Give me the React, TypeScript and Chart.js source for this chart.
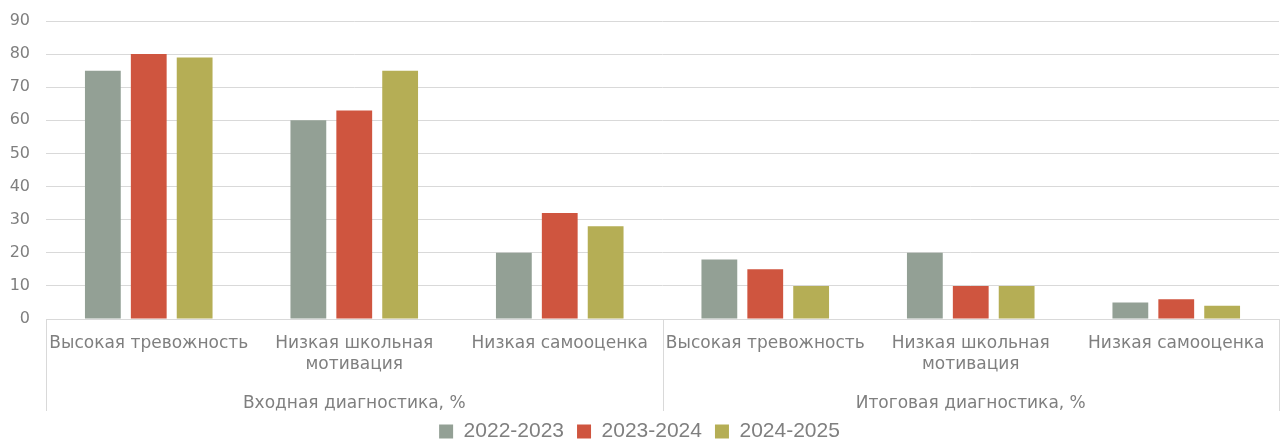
import React, { useEffect, useRef } from "react";
import { Chart, registerables } from "chart.js";

Chart.register(...registerables);

const categories: (string | string[])[] = [
  "Высокая тревожность",
  ["Низкая школьная", "мотивация"],
  "Низкая самооценка",
  "Высокая тревожность",
  ["Низкая школьная", "мотивация"],
  "Низкая самооценка",
];
const groups = ["Входная диагностика, %", "Итоговая диагностика, %"];
const seriesNames = ["2022-2023", "2023-2024", "2024-2025"];
const values2022 = [75, 60, 20, 18, 20, 5];
const values2023 = [80, 63, 32, 15, 10, 6];
const values2024 = [79, 75, 28, 10, 10, 4];
const colors = ["#93A095", "#CF553F", "#B5AE55"];
const yTicks = [0, 10, 20, 30, 40, 50, 60, 70, 80, 90];

const FONT = "'DejaVu Sans', sans-serif";
const TEXT = "#7f7f7f";
const LINE = "#d9d9d9";

const groupPlugin = {
  id: "groupPlugin",
  afterDraw(chart: any) {
    const ctx = chart.ctx;
    const area = chart.chartArea;
    const x = chart.scales.x;
    const bottom = area.bottom + 92;
    const n = categories.length;
    const per = n / groups.length;
    ctx.save();
    ctx.strokeStyle = LINE;
    ctx.lineWidth = 1;
    const edges: number[] = [];
    for (let g = 0; g <= groups.length; g++) {
      const i = g * per;
      let px: number;
      if (i === 0) px = area.left;
      else if (i >= n) px = area.right;
      else px = (x.getPixelForValue(i - 1) + x.getPixelForValue(i)) / 2;
      edges.push(px);
      ctx.beginPath();
      ctx.moveTo(Math.round(px) + 0.5, area.bottom);
      ctx.lineTo(Math.round(px) + 0.5, bottom);
      ctx.stroke();
    }
    ctx.fillStyle = TEXT;
    ctx.font = "17px " + FONT;
    ctx.textAlign = "center";
    ctx.textBaseline = "middle";
    for (let g = 0; g < groups.length; g++) {
      ctx.fillText(groups[g], (edges[g] + edges[g + 1]) / 2, area.bottom + 85);
    }
    ctx.restore();
  },
};

export default function App() {
  const ref = useRef<HTMLCanvasElement>(null);
  useEffect(() => {
    document.body.style.margin = "0";
    const data = [values2022, values2023, values2024];
    const chart = new Chart(ref.current!, {
      type: "bar",
      data: {
        labels: categories,
        datasets: seriesNames.map((name, i) => ({
          label: name,
          data: data[i],
          backgroundColor: colors[i],
          barPercentage: 0.78,
          categoryPercentage: 0.67,
        })),
      },
      options: {
        animation: false,
        responsive: false,
        maintainAspectRatio: false,
        layout: { padding: { top: 21, right: 1, left: 0, bottom: -13 } },
        scales: {
          x: {
            grid: { display: false },
            border: { color: LINE },
            ticks: {
              color: TEXT,
              font: { family: FONT, size: 17, lineHeight: 1.25 },
              maxRotation: 0,
              autoSkip: false,
              padding: 6,
            },
            afterFit: (scale: any) => {
              scale.height = 89;
            },
          },
          y: {
            min: 0,
            max: 90,
            afterBuildTicks: (scale: any) => {
              scale.ticks = yTicks.map((v) => ({ value: v }));
            },
            afterFit: (scale: any) => {
              scale.width = 46;
              scale.paddingTop = 0;
              scale.paddingBottom = 0;
            },
            grid: { color: LINE, drawTicks: false },
            border: { display: false },
            ticks: {
              color: TEXT,
              font: { family: FONT, size: 16 },
              padding: 16,
            },
          },
        },
        plugins: {
          legend: {
            position: "bottom",
            labels: {
              color: TEXT,
              font: { family: "'Liberation Sans', sans-serif", size: 21 },
              boxWidth: 14,
              boxHeight: 14,
              padding: 13,
            },
          },
          tooltip: { enabled: false },
        },
      },
      plugins: [groupPlugin],
    } as any);
    return () => chart.destroy();
  }, []);
  return (
    <div style={{ width: 1280, height: 439 }}>
      <canvas ref={ref} width={1280} height={439} style={{ display: "block" }} />
    </div>
  );
}
